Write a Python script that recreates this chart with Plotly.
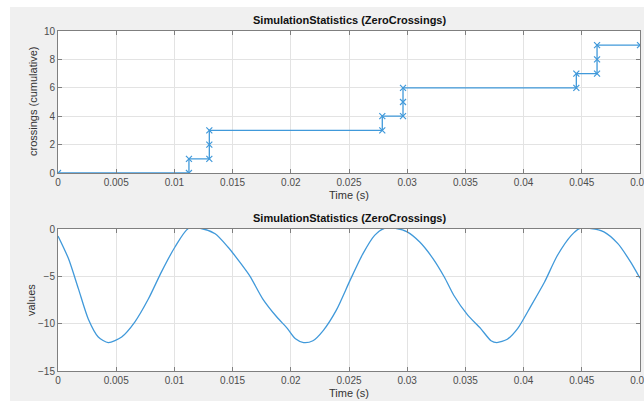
import plotly.graph_objects as go

# ---- data ----
zc_time = [0, 0.01125, 0.01125, 0.0130, 0.0130, 0.0130, 0.02786, 0.02786,
           0.02964, 0.02964, 0.02964, 0.04453, 0.04453, 0.04631, 0.04631, 0.04631, 0.05]
zc_count = [0, 0, 1, 1, 2, 3, 3, 4, 4, 5, 6, 6, 7, 7, 8, 9, 9]

sig_time = [0, 0.00089, 0.00175, 0.0026, 0.00346, 0.00432, 0.00547, 0.00661, 0.00776,
            0.0089, 0.01005, 0.0112, 0.0123, 0.0135, 0.0146, 0.0158, 0.0165, 0.0176,
            0.0188, 0.0197, 0.0204, 0.0211, 0.0219, 0.0228, 0.0239, 0.0251, 0.0262,
            0.0272, 0.0280, 0.0291, 0.0300, 0.0311, 0.0322, 0.0332, 0.0340, 0.0352,
            0.0363, 0.0372, 0.0377, 0.0386, 0.0395, 0.0406, 0.0418, 0.0429, 0.0441,
            0.0448, 0.0458, 0.0469, 0.0481, 0.0492, 0.0500]
sig_value = [-0.74, -3.1, -6.3, -9.5, -11.4, -12.0, -11.4, -9.8, -7.4,
             -4.5, -1.9, 0.05, 0.05, -0.5, -1.9, -3.8, -5.0, -7.4,
             -9.3, -10.5, -11.6, -12.0, -11.8, -10.7, -8.6, -5.4, -2.6,
             -0.67, 0.05, 0.05, -0.3, -1.4, -3.1, -5.1, -7.0, -9.1,
             -10.5, -11.8, -12.0, -11.65, -10.5, -8.2, -5.6, -2.8, -0.67,
             0.05, 0.05, -0.3, -1.55, -3.5, -5.2]

x_ticks = [0, 0.005, 0.01, 0.015, 0.02, 0.025, 0.03, 0.035, 0.04, 0.045, 0.05]
x_tick_text = ["0", "0.005", "0.01", "0.015", "0.02", "0.025", "0.03", "0.035", "0.04", "0.045", "0.05"]
y1_ticks = [0, 2, 4, 6, 8, 10]
y2_ticks = [0, -5, -10, -15]

title_text = "SimulationStatistics (ZeroCrossings)"

# ---- layout geometry (pixels) ----
W, H = 644, 401
px_l, px_r = 58, 640
top_t, top_b = 31, 173
bot_t, bot_b = 229, 371

def fy(py):
    return 1 - py / H

def fx(px):
    return px / W

BLUE = "#4099da"
FONT = "Liberation Sans, Arial, sans-serif"

fig = go.Figure()
fig.add_trace(go.Scatter(x=zc_time, y=zc_count, mode="lines+markers",
                         line=dict(color=BLUE, width=1.3),
                         marker=dict(symbol="x-thin-open", size=6,
                                     line=dict(color=BLUE, width=1.2), color=BLUE),
                         xaxis="x", yaxis="y", showlegend=False))
fig.add_trace(go.Scatter(x=sig_time, y=sig_value, mode="lines",
                         line=dict(color=BLUE, width=1.3, shape="spline", smoothing=0.7),
                         xaxis="x2", yaxis="y2", showlegend=False))

axis_common = dict(showline=True, linecolor="#7f7f7f", linewidth=1, mirror="allticks",
                   ticks="inside", ticklen=4, tickcolor="#7f7f7f",
                   showgrid=True, gridcolor="#e3e3e3", gridwidth=1, zeroline=False,
                   tickfont=dict(family=FONT, size=10, color="#4d4d4d"))

fig.update_layout(
    width=W, height=H,
    margin=dict(l=0, r=0, t=0, b=0, autoexpand=False),
    paper_bgcolor="#f0f0f0",
    plot_bgcolor="white",
    xaxis=dict(domain=[fx(px_l), fx(px_r)], range=[0, 0.05], tickvals=x_ticks,
               ticktext=x_tick_text, anchor="y", ticklabeloverflow="allow", **axis_common),
    yaxis=dict(domain=[fy(top_b), fy(top_t)], range=[0, 10], tickvals=y1_ticks,
               anchor="x", **axis_common),
    xaxis2=dict(domain=[fx(px_l), fx(px_r)], range=[0, 0.05], tickvals=x_ticks,
                ticktext=x_tick_text, anchor="y2", ticklabeloverflow="allow", **axis_common),
    yaxis2=dict(domain=[fy(bot_b), fy(bot_t)], range=[-15, 0.0], tickvals=y2_ticks,
                anchor="x2", **axis_common),
    shapes=[
        dict(type="rect", xref="paper", yref="paper", x0=0, x1=fx(10), y0=0, y1=1,
             fillcolor="white", line=dict(width=0), layer="below"),
        dict(type="rect", xref="paper", yref="paper", x0=0, x1=1, y0=fy(7), y1=1,
             fillcolor="white", line=dict(width=0), layer="below"),
    ],
)

cx = fx((px_l + px_r) / 2)
ann = [
    dict(text="<b>" + title_text + "</b>", x=cx, y=fy(20), font=dict(size=11, color="#111111")),
    dict(text="<b>" + title_text + "</b>", x=cx, y=fy(218), font=dict(size=11, color="#111111")),
    dict(text="Time (s)", x=cx, y=fy(195), font=dict(size=11, color="#333333")),
    dict(text="Time (s)", x=cx, y=fy(393), font=dict(size=11, color="#333333")),
    dict(text="crossings (cumulative)", x=fx(33), y=fy((top_t + top_b) / 2), textangle=-90,
         font=dict(size=11, color="#333333")),
    dict(text="values", x=fx(31), y=fy((bot_t + bot_b) / 2), textangle=-90,
         font=dict(size=11, color="#333333")),
]
for a in ann:
    a["font"]["family"] = FONT
    fig.add_annotation(xref="paper", yref="paper", showarrow=False,
                       xanchor="center", yanchor="middle", **a)

fig.write_html("out.html", config={"displayModeBar": False},
               post_script="document.body.style.margin='0';document.body.style.overflow='hidden';")
